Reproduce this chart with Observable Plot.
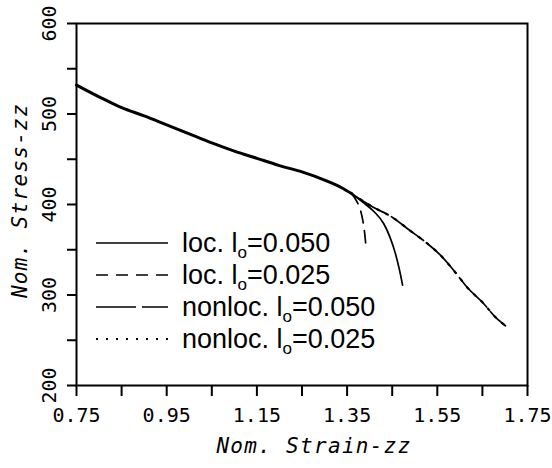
<!DOCTYPE html>
<html><head><meta charset="utf-8">
<script src="https://cdn.jsdelivr.net/npm/d3@7"></script>
<script src="https://cdn.jsdelivr.net/npm/@observablehq/plot@0.6"></script>
<style>body{margin:0;background:#fff} svg{display:block}</style>
</head><body><div id="chart"></div>
<script>
// Axis ticks
const xTicks = [0.75, 0.85, 0.95, 1.05, 1.15, 1.25, 1.35, 1.45, 1.55, 1.65, 1.75];
const xLabels = [0.75, 0.95, 1.15, 1.35, 1.55, 1.75];
const yTicks = [200, 250, 300, 350, 400, 450, 500, 550, 600];
const yLabels = [200, 300, 400, 500, 600];

// Shared part of all four curves (they coincide)
const commonStrain = [0.75, 0.80, 0.85, 0.90, 0.95, 1.00, 1.05, 1.10, 1.15, 1.20, 1.25, 1.30, 1.34, 1.36];
const commonStress = [532, 519, 507, 498, 488, 478, 468, 459, 451, 443, 436, 427, 418, 412];

// Branches after bifurcation
const loc050Strain = [1.36, 1.386, 1.41, 1.431, 1.445, 1.457, 1.466, 1.473];
const loc050Stress = [412, 402, 392, 379, 364, 346, 328, 311];
const loc025Strain = [1.36, 1.372, 1.38, 1.385, 1.389, 1.392];
const loc025Stress = [412, 403, 393, 382, 368, 352];
const nonloc050Strain = [1.36, 1.408, 1.45, 1.49, 1.52, 1.557, 1.59, 1.617, 1.65, 1.68, 1.701];
const nonloc050Stress = [412, 397, 386, 371, 360, 344, 325, 308, 292, 275, 266];
const nonloc025Strain = [1.36, 1.408, 1.45, 1.49, 1.52, 1.557, 1.59, 1.617, 1.65, 1.68, 1.701];
const nonloc025Stress = [412, 397, 386, 371, 360, 344, 325, 308, 292, 275, 266];

// Legend
const legendPrefix = ["loc. l", "loc. l", "nonloc. l", "nonloc. l"];
const legendSub = "o";
const legendValue = ["=0.050", "=0.025", "=0.050", "=0.025"];
const dashes = ["none", "12,8", "40,6", "2,8"];

const zip = (xs, ys) => xs.map((x, i) => ({x, y: ys[i]}));
const common = zip(commonStrain, commonStress);
const branches = [
  zip(loc050Strain, loc050Stress),
  zip(loc025Strain, loc025Stress),
  zip(nonloc050Strain, nonloc050Stress),
  zip(nonloc025Strain, nonloc025Stress)
];

const mono = "DejaVu Sans Mono, monospace";

const svg = Plot.plot({
  width: 552, height: 468,
  marginLeft: 76, marginRight: 25, marginTop: 23, marginBottom: 83,
  x: {domain: [0.75, 1.75]},
  y: {domain: [200, 600]},
  style: {background: "#fff", color: "#000", fontFamily: mono},
  marks: [
    Plot.axisX({ticks: xTicks, tickSize: 11, tickFormat: () => "", strokeWidth: 2, label: null}),
    Plot.axisY({ticks: yTicks, tickSize: 9, tickFormat: () => "", strokeWidth: 2, label: null}),
    Plot.text(xLabels, {x: d => d, frameAnchor: "bottom", dy: 36, textAnchor: "middle", text: d => d.toFixed(2), fontSize: 20, fontFamily: mono}),
    Plot.text(yLabels, {y: d => d, frameAnchor: "left", dx: -27, rotate: -90, textAnchor: "middle", text: d => String(d), fontSize: 20, fontFamily: mono}),
    Plot.text(["Nom. Strain-zz"], {frameAnchor: "bottom", dx: 12, dy: 67, textAnchor: "middle", text: d => d, fontSize: 21, fontFamily: mono, fontStyle: "italic"}),
    Plot.text(["Nom. Stress-zz"], {frameAnchor: "left", dx: -56, dy: -4, rotate: -90, textAnchor: "middle", text: d => d, fontSize: 21, fontFamily: mono, fontStyle: "italic"}),
    Plot.frame({stroke: "#000", strokeWidth: 2}),
    Plot.line(common, {x: "x", y: "y", stroke: "#000", strokeWidth: 3, curve: "monotone-x"}),
    ...branches.map((b, i) => Plot.line(b, {x: "x", y: "y", stroke: "#000", strokeWidth: i === 3 ? 2.2 : 1.7, strokeDasharray: dashes[i], curve: "monotone-x"}))
  ]
});

const s = d3.select(svg);
// letter spacing for the axis titles only
s.selectAll("text").filter(function() { return /Nom\./.test(this.textContent); }).style("letter-spacing", "1.3px");

// Legend (inside plot area)
const legendRowsY = [243, 275, 307, 339];
const lg = s.append("g")
  .attr("font-family", "Liberation Sans, Arial, sans-serif")
  .attr("font-size", 27)
  .attr("text-anchor", "start");
legendPrefix.forEach((p, i) => {
  const y = legendRowsY[i];
  lg.append("line").attr("x1", 96).attr("x2", 168).attr("y1", y).attr("y2", y)
    .attr("stroke", "#000").attr("stroke-width", i === 3 ? 2 : 1.7)
    .attr("stroke-dasharray", dashes[i] === "none" ? null : dashes[i]);
  const t = lg.append("text").attr("x", 182).attr("y", y + 9).attr("text-anchor", "start").attr("fill", "#000");
  t.append("tspan").text(p);
  t.append("tspan").attr("font-size", 17).attr("dy", 6).text(legendSub);
  t.append("tspan").attr("dy", -6).text(legendValue[i]);
});

document.getElementById("chart").appendChild(svg);
</script>
</body></html>
